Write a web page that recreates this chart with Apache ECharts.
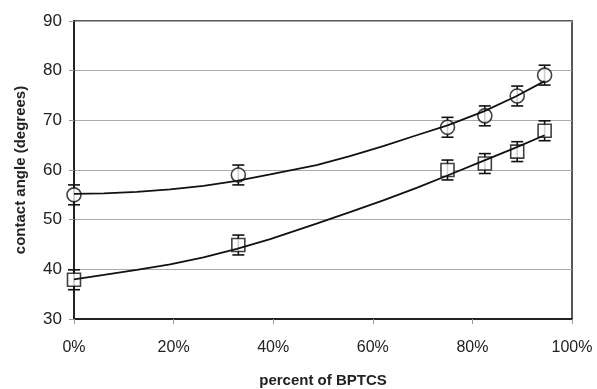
<!DOCTYPE html>
<html><head><meta charset="utf-8">
<script src="https://cdn.jsdelivr.net/npm/echarts@6/dist/echarts.min.js"></script>
<style>html,body{margin:0;padding:0;background:#fff}#c{width:597px;height:389px}</style>
</head><body><div id="c"></div>
<script>
// Measured points (percent of BPTCS, contact angle)
const xPct = [0, 33, 75, 82.5, 89, 94.5];
const circleVals = [55, 59, 68.6, 70.9, 74.9, 79.1];
const squareVals = [37.9, 44.9, 60, 61.3, 63.7, 67.9];
const errVal = [2, 2, 2, 2, 2, 2];
// Trend lines
const trendX = [0, 6, 12.6, 19.3, 26, 32.7, 39.4, 48.7, 55.4, 62.1, 68.8, 75, 82.3, 88.7, 94.5];
const trendCircle = [55.2, 55.3, 55.6, 56.1, 56.8, 57.8, 59.1, 61.0, 62.8, 64.8, 67.0, 69.0, 71.8, 74.8, 77.9];
const trendSquare = [38.0, 38.9, 39.9, 41.0, 42.4, 44.1, 46.1, 49.2, 51.5, 53.9, 56.4, 58.9, 61.9, 64.5, 67.0];
const xTicks = [0, 20, 40, 60, 80, 100];
const yTicks = [30, 40, 50, 60, 70, 80, 90];

const chart = echarts.init(document.getElementById('c'));
const zip = (a, b) => a.map((v, i) => [v, b[i]]);
function errData(vals) { return xPct.map((x, i) => [x, vals[i] - errVal[i], vals[i] + errVal[i]]); }
function errRender(params, api) {
  const x = api.value(0);
  const lo = api.coord([x, api.value(1)]);
  const hi = api.coord([x, api.value(2)]);
  const w = 6;
  const st = { stroke: '#111', lineWidth: 1.6 };
  return { type: 'group', children: [
    { type: 'line', shape: { x1: lo[0], y1: lo[1], x2: hi[0], y2: hi[1] }, style: st },
    { type: 'line', shape: { x1: lo[0] - w, y1: lo[1], x2: lo[0] + w, y2: lo[1] }, style: st },
    { type: 'line', shape: { x1: hi[0] - w, y1: hi[1], x2: hi[0] + w, y2: hi[1] }, style: st }
  ]};
}
const font = 'Liberation Sans, Arial, sans-serif';
chart.setOption({
  animation: false,
  grid: { left: 74, right: 25, top: 21, bottom: 70, containLabel: false, outerBoundsMode: 'none',
    show: true, borderColor: '#222', borderWidth: 1.5, backgroundColor: 'transparent' },
  xAxis: {
    type: 'value', min: 0, max: 100, interval: 20,
    name: 'percent of BPTCS', nameLocation: 'middle', nameGap: 54,
    nameTextStyle: { fontFamily: font, fontSize: 15, fontWeight: 'bold', color: '#222' },
    axisLine: { show: true, onZero: false, lineStyle: { color: '#222', width: 2 } },
    axisTick: { show: true, length: 5, lineStyle: { color: '#999' } },
    axisLabel: { fontFamily: font, fontSize: 16, color: '#222', margin: 21, formatter: v => xTicks.includes(v) ? v + '%' : '' },
    splitLine: { show: false }
  },
  yAxis: {
    type: 'value', min: 30, max: 90, interval: 10,
    name: 'contact angle (degrees)', nameLocation: 'middle', nameGap: 46,
    nameTextStyle: { fontFamily: font, fontSize: 15, fontWeight: 'bold', color: '#222' },
    axisLine: { show: true, lineStyle: { color: '#222', width: 2 } },
    axisTick: { show: true, length: 5, lineStyle: { color: '#999' } },
    axisLabel: { fontFamily: font, fontSize: 17, color: '#222', margin: 12, formatter: v => yTicks.includes(v) ? String(v) : '' },
    splitLine: { show: true, lineStyle: { color: '#aaa', width: 1 } }
  },
  series: [
    { type: 'custom', renderItem: errRender, data: errData(circleVals), z: 2, silent: true },
    { type: 'custom', renderItem: errRender, data: errData(squareVals), z: 2, silent: true },
    { type: 'scatter', data: zip(xPct, circleVals), symbol: 'circle', symbolSize: 14, z: 3,
      itemStyle: { color: '#fff', borderColor: '#111', borderWidth: 1.6 } },
    { type: 'scatter', data: zip(xPct, squareVals), symbol: 'rect', symbolSize: 13, z: 3,
      itemStyle: { color: '#fff', borderColor: '#111', borderWidth: 1.6 } },
    { type: 'line', data: zip(trendX, trendCircle), smooth: false, showSymbol: false, z: 4,
      lineStyle: { color: '#111', width: 1.8 } },
    { type: 'line', data: zip(trendX, trendSquare), smooth: false, showSymbol: false, z: 4,
      lineStyle: { color: '#111', width: 1.8 } }
  ]
});
</script></body></html>
